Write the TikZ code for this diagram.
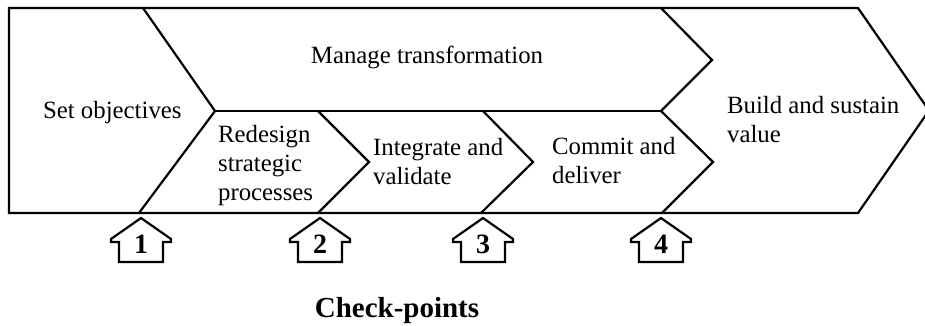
\documentclass[tikz,border=0pt]{standalone}
\usepackage{fontspec}
\setmainfont{Liberation Serif}
\usetikzlibrary{positioning}

\begin{document}
\begin{tikzpicture}[x=0.5pt,y=-0.5pt,line width=1.1pt,
    stage/.style={anchor=west,align=left,inner sep=0pt,font=\fontsize{12.4}{14.5}\selectfont},
    house/.style={draw,line join=miter},
    num/.style={inner sep=0pt,font=\fontsize{14}{16}\bfseries\selectfont}]
    \useasboundingbox (0,0) rectangle (925,326);

    % Outline
    \draw (9,8) -- (858,8) -- (929,110.5) -- (858,213) -- (9,213) -- cycle;

    % Stage borders
    \draw (143,8) -- (215,111) -- (139,213);
    \draw (215,111) -- (661,111);
    \draw (661,8) -- (712,60) -- (661,111) -- (713,162) -- (662,213);
    \draw (318,111) -- (369,162) -- (318,213);
    \draw (483,111) -- (533,162) -- (481,213);

    % Labels
    \node[stage] (setobj) at (42,113) {Set objectives};
    \node[stage,anchor=center] (manage) at (427,57) {Manage transformation};
    \node[stage] (redesign) at (217,166) {Redesign\\strategic\\processes};
    \node[stage] (integrate) at (372,162) {Integrate and\\validate};
    \node[stage] (commit) at (551,161) {Commit and\\deliver};
    \node[stage] (build) at (726,120) {Build and sustain\\value};

    % Check-points
    \foreach \x/\n in {141/1,320/2,483/3,661/4}{
        \draw[house] (\x,218) -- ++(30,21) -- ++(0,3) -- ++(-8,0) -- ++(0,20)
            -- ++(-44,0) -- ++(0,-20) -- ++(-8,0) -- ++(0,-3) -- cycle;
        \node[num] (cp\n) at (\x,244) {\n};
    }
    \node[font=\fontsize{14.5}{16}\bfseries\selectfont,inner sep=0pt] (checkpts) at (397,311) {Check-points};

\end{tikzpicture}
\end{document}
